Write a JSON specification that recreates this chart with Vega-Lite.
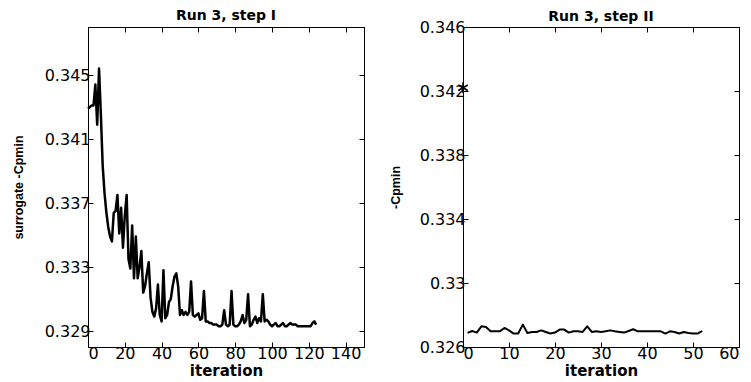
{
  "$schema": "https://vega.github.io/schema/vega-lite/v6.json",
  "background": "white",
  "padding": {"left": 11, "top": 8, "right": 0, "bottom": 0},
  "bounds": "flush",
  "spacing": 99,
  "config": {
    "view": {"stroke": "black", "strokeWidth": 1},
    "font": "DejaVu Sans",
    "axis": {
      "domainColor": "black", "tickColor": "black", "labelColor": "black", "titleColor": "black",
      "grid": false, "tickSize": -5, "labelFont": "DejaVu Sans", "labelFontSize": 16,
      "titleFont": "DejaVu Sans", "titleFontSize": 15, "titleFontWeight": "bold"
    },
    "axisY": {"titleFont": "Liberation Sans", "titleFontSize": 12.5},
    "title": {"font": "DejaVu Sans", "fontSize": 14, "fontWeight": "bold", "color": "black", "frame": "group", "offset": 0}
  },
  "datasets": {
    "left": [
      {"iteration": 0, "value": 0.3429}, {"iteration": 1, "value": 0.3430}, {"iteration": 2, "value": 0.3431}, {"iteration": 3, "value": 0.3431},
      {"iteration": 4, "value": 0.3444}, {"iteration": 5, "value": 0.3419}, {"iteration": 6, "value": 0.3454}, {"iteration": 7, "value": 0.3425},
      {"iteration": 8, "value": 0.3393}, {"iteration": 9, "value": 0.3376}, {"iteration": 10, "value": 0.3364}, {"iteration": 11, "value": 0.3355},
      {"iteration": 12, "value": 0.3349}, {"iteration": 13, "value": 0.3346}, {"iteration": 14, "value": 0.3364}, {"iteration": 15, "value": 0.3365},
      {"iteration": 16, "value": 0.3375}, {"iteration": 17, "value": 0.3351}, {"iteration": 18, "value": 0.3367}, {"iteration": 19, "value": 0.3342},
      {"iteration": 20, "value": 0.3362}, {"iteration": 21, "value": 0.3375}, {"iteration": 22, "value": 0.3335}, {"iteration": 23, "value": 0.3329},
      {"iteration": 24, "value": 0.3356}, {"iteration": 25, "value": 0.3323}, {"iteration": 26, "value": 0.3349}, {"iteration": 27, "value": 0.3323},
      {"iteration": 28, "value": 0.3330}, {"iteration": 29, "value": 0.3340}, {"iteration": 30, "value": 0.3314}, {"iteration": 31, "value": 0.3318},
      {"iteration": 32, "value": 0.3326}, {"iteration": 33, "value": 0.3333}, {"iteration": 34, "value": 0.3311}, {"iteration": 35, "value": 0.3302},
      {"iteration": 36, "value": 0.3299}, {"iteration": 37, "value": 0.3304}, {"iteration": 38, "value": 0.3319}, {"iteration": 39, "value": 0.3300},
      {"iteration": 40, "value": 0.3296}, {"iteration": 41, "value": 0.3328}, {"iteration": 42, "value": 0.3298}, {"iteration": 43, "value": 0.3300},
      {"iteration": 44, "value": 0.3308}, {"iteration": 45, "value": 0.3310}, {"iteration": 46, "value": 0.3318}, {"iteration": 47, "value": 0.3324},
      {"iteration": 48, "value": 0.3326}, {"iteration": 49, "value": 0.3318}, {"iteration": 50, "value": 0.3300}, {"iteration": 51, "value": 0.3303},
      {"iteration": 52, "value": 0.3300}, {"iteration": 53, "value": 0.3302}, {"iteration": 54, "value": 0.3300}, {"iteration": 55, "value": 0.3302},
      {"iteration": 56, "value": 0.3321}, {"iteration": 57, "value": 0.3300}, {"iteration": 58, "value": 0.3299}, {"iteration": 59, "value": 0.3300},
      {"iteration": 60, "value": 0.3301}, {"iteration": 61, "value": 0.3297}, {"iteration": 62, "value": 0.3298}, {"iteration": 63, "value": 0.3315},
      {"iteration": 64, "value": 0.3296}, {"iteration": 65, "value": 0.3296}, {"iteration": 66, "value": 0.3295}, {"iteration": 67, "value": 0.3295},
      {"iteration": 68, "value": 0.3294}, {"iteration": 69, "value": 0.3294}, {"iteration": 70, "value": 0.3294}, {"iteration": 71, "value": 0.3293},
      {"iteration": 72, "value": 0.3293}, {"iteration": 73, "value": 0.3294}, {"iteration": 74, "value": 0.3303}, {"iteration": 75, "value": 0.3294},
      {"iteration": 76, "value": 0.3293}, {"iteration": 77, "value": 0.3294}, {"iteration": 78, "value": 0.3315}, {"iteration": 79, "value": 0.3294},
      {"iteration": 80, "value": 0.3293}, {"iteration": 81, "value": 0.3293}, {"iteration": 82, "value": 0.3294}, {"iteration": 83, "value": 0.3296},
      {"iteration": 84, "value": 0.3300}, {"iteration": 85, "value": 0.3295}, {"iteration": 86, "value": 0.3297}, {"iteration": 87, "value": 0.3313},
      {"iteration": 88, "value": 0.3293}, {"iteration": 89, "value": 0.3294}, {"iteration": 90, "value": 0.3297}, {"iteration": 91, "value": 0.3299},
      {"iteration": 92, "value": 0.3295}, {"iteration": 93, "value": 0.3298}, {"iteration": 94, "value": 0.3296}, {"iteration": 95, "value": 0.3313},
      {"iteration": 96, "value": 0.3296}, {"iteration": 97, "value": 0.3297}, {"iteration": 98, "value": 0.3296}, {"iteration": 99, "value": 0.3294},
      {"iteration": 100, "value": 0.3293}, {"iteration": 101, "value": 0.3294}, {"iteration": 102, "value": 0.3295}, {"iteration": 103, "value": 0.3293},
      {"iteration": 104, "value": 0.3293}, {"iteration": 105, "value": 0.3294}, {"iteration": 106, "value": 0.3295}, {"iteration": 107, "value": 0.3293},
      {"iteration": 108, "value": 0.3293}, {"iteration": 109, "value": 0.3294}, {"iteration": 110, "value": 0.3295}, {"iteration": 111, "value": 0.3294},
      {"iteration": 112, "value": 0.3294}, {"iteration": 113, "value": 0.3294}, {"iteration": 114, "value": 0.3293}, {"iteration": 115, "value": 0.3293},
      {"iteration": 116, "value": 0.3293}, {"iteration": 117, "value": 0.3293}, {"iteration": 118, "value": 0.3293}, {"iteration": 119, "value": 0.3293},
      {"iteration": 120, "value": 0.3293}, {"iteration": 121, "value": 0.3293}, {"iteration": 122, "value": 0.3295}, {"iteration": 123, "value": 0.3296},
      {"iteration": 124, "value": 0.3294}
    ],
    "right": [
      {"iteration": 1, "value": 0.32688}, {"iteration": 2, "value": 0.32700}, {"iteration": 3, "value": 0.32690}, {"iteration": 4, "value": 0.32729},
      {"iteration": 5, "value": 0.32725}, {"iteration": 6, "value": 0.32698}, {"iteration": 7, "value": 0.32698}, {"iteration": 8, "value": 0.32698},
      {"iteration": 9, "value": 0.32719}, {"iteration": 10, "value": 0.32704}, {"iteration": 11, "value": 0.32684}, {"iteration": 12, "value": 0.32684},
      {"iteration": 13, "value": 0.32740}, {"iteration": 14, "value": 0.32688}, {"iteration": 15, "value": 0.32694}, {"iteration": 16, "value": 0.32694},
      {"iteration": 17, "value": 0.32704}, {"iteration": 18, "value": 0.32694}, {"iteration": 19, "value": 0.32684}, {"iteration": 20, "value": 0.32690},
      {"iteration": 21, "value": 0.32709}, {"iteration": 22, "value": 0.32709}, {"iteration": 23, "value": 0.32690}, {"iteration": 24, "value": 0.32698},
      {"iteration": 25, "value": 0.32698}, {"iteration": 26, "value": 0.32694}, {"iteration": 27, "value": 0.32729}, {"iteration": 28, "value": 0.32694},
      {"iteration": 29, "value": 0.32698}, {"iteration": 30, "value": 0.32694}, {"iteration": 31, "value": 0.32698}, {"iteration": 32, "value": 0.32704},
      {"iteration": 33, "value": 0.32698}, {"iteration": 34, "value": 0.32694}, {"iteration": 35, "value": 0.32690}, {"iteration": 36, "value": 0.32700},
      {"iteration": 37, "value": 0.32711}, {"iteration": 38, "value": 0.32698}, {"iteration": 39, "value": 0.32698}, {"iteration": 40, "value": 0.32698},
      {"iteration": 41, "value": 0.32698}, {"iteration": 42, "value": 0.32698}, {"iteration": 43, "value": 0.32698}, {"iteration": 44, "value": 0.32684},
      {"iteration": 45, "value": 0.32698}, {"iteration": 46, "value": 0.32694}, {"iteration": 47, "value": 0.32684}, {"iteration": 48, "value": 0.32694},
      {"iteration": 49, "value": 0.32688}, {"iteration": 50, "value": 0.32684}, {"iteration": 51, "value": 0.32684}, {"iteration": 52, "value": 0.32700}
    ],
    "start": [{"iteration": 0, "value": 0.3422}]
  },
  "hconcat": [
    {
      "title": "Run 3, step I",
      "width": 276,
      "height": 320,
      "data": {"name": "left"},
      "layer": [
        {
          "mark": {"type": "line", "color": "black", "strokeWidth": 2.5, "strokeJoin": "round"},
          "encoding": {
            "x": {"field": "iteration", "type": "quantitative",
                  "scale": {"domain": [0, 150], "nice": false, "zero": false},
                  "axis": {"values": [0, 20, 40, 60, 80, 100, 120, 140], "title": "iteration", "labelPadding": 3, "titlePadding": 2}},
            "y": {"field": "value", "type": "quantitative",
                  "scale": {"domain": [0.328, 0.348], "nice": false, "zero": false},
                  "axis": {"values": [0.329, 0.333, 0.337, 0.341, 0.345], "format": ".3f", "title": "surrogate -Cpmin", "labelPadding": 3, "titlePadding": 19}}
          }
        },
        {
          "mark": {"type": "line", "strokeOpacity": 0},
          "encoding": {
            "x": {"field": "iteration", "type": "quantitative",
                  "axis": {"orient": "top", "values": [0, 20, 40, 60, 80, 100, 120, 140], "labels": false, "title": null}},
            "y": {"field": "value", "type": "quantitative",
                  "axis": {"orient": "right", "values": [0.329, 0.333, 0.337, 0.341, 0.345], "labels": false, "title": null}}
          }
        }
      ],
      "resolve": {"axis": {"x": "independent", "y": "independent"}}
    },
    {
      "title": {"text": "Run 3, step II", "offset": -5},
      "width": 276,
      "height": 320,
      "layer": [
        {
          "data": {"name": "right"},
          "mark": {"type": "line", "color": "black", "strokeWidth": 2, "strokeJoin": "round"},
          "encoding": {
            "x": {"field": "iteration", "type": "quantitative",
                  "scale": {"domain": [0, 60], "nice": false, "zero": false},
                  "axis": {"values": [0, 10, 20, 30, 40, 50, 60], "title": "iteration", "labelPadding": 3, "titlePadding": 2}},
            "y": {"field": "value", "type": "quantitative",
                  "scale": {"domain": [0.326, 0.346], "nice": false, "zero": false},
                  "axis": {"values": [0.326, 0.33, 0.334, 0.338, 0.342, 0.346], "format": "~g", "title": "-Cpmin", "labelPadding": 3, "titlePadding": 17}}
          }
        },
        {
          "data": {"name": "right"},
          "mark": {"type": "line", "strokeOpacity": 0},
          "encoding": {
            "x": {"field": "iteration", "type": "quantitative",
                  "axis": {"orient": "top", "values": [0, 10, 20, 30, 40, 50, 60], "labels": false, "title": null}},
            "y": {"field": "value", "type": "quantitative",
                  "axis": {"orient": "right", "values": [0.326, 0.33, 0.334, 0.338, 0.342, 0.346], "labels": false, "title": null}}
          }
        },
        {
          "data": {"name": "start"},
          "mark": {"type": "point", "shape": "M0,-1L0,1M-0.87,-0.5L0.87,0.5M-0.87,0.5L0.87,-0.5", "filled": false, "color": "black", "strokeWidth": 1.6, "size": 121, "opacity": 1},
          "encoding": {
            "x": {"field": "iteration", "type": "quantitative", "axis": null},
            "y": {"field": "value", "type": "quantitative", "axis": null}
          }
        }
      ],
      "resolve": {"axis": {"x": "independent", "y": "independent"}}
    }
  ]
}
